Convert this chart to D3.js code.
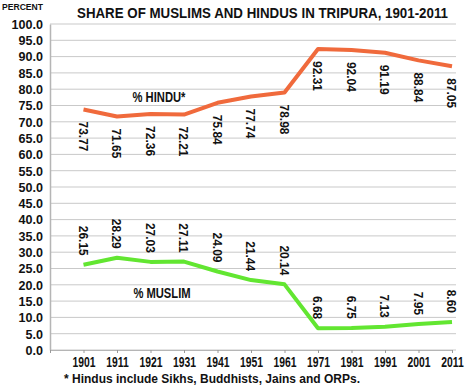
<!DOCTYPE html>
<html>
<head>
<meta charset="utf-8">
<script src="https://cdn.jsdelivr.net/npm/d3@7"></script>
<style>
  body { margin: 0; background: #fff; }
  svg text { font-family: "Liberation Sans", Arial, sans-serif; font-weight: bold; fill: #111; }
</style>
</head>
<body>
<svg id="chart" width="476" height="388"></svg>
<script>
// census years and shares (%)
const years = [1901, 1911, 1921, 1931, 1941, 1951, 1961, 1971, 1981, 1991, 2001, 2011];
const hindu = [73.77, 71.65, 72.36, 72.21, 75.84, 77.74, 78.98, 92.31, 92.04, 91.19, 88.84, 87.05];
const muslim = [26.15, 28.29, 27.03, 27.11, 24.09, 21.44, 20.14, 6.68, 6.75, 7.13, 7.95, 8.60];
const yTicks = d3.range(0, 100.1, 5);

const svg = d3.select("#chart");

// squeeze text horizontally to mimic the condensed face of the original
function condense(sel, factor) {
  sel.each(function () {
    const len = this.getComputedTextLength();
    d3.select(this).attr("textLength", len * factor).attr("lengthAdjust", "spacingAndGlyphs");
  });
}

const x = d3.scaleLinear().domain([1891, 2011]).range([50, 452]);
const y = d3.scaleLinear().domain([0, 100]).range([350, 24]);

// grid lines
svg.append("g")
  .selectAll("line")
  .data(yTicks)
  .join("line")
  .attr("x1", 50).attr("x2", 456)
  .attr("y1", d => y(d)).attr("y2", d => y(d))
  .attr("stroke", "#c9c9c9")
  .attr("stroke-width", 1);

// left axis
const yAxis = svg.append("g")
  .attr("transform", "translate(50,0)")
  .call(d3.axisLeft(y).tickValues(yTicks).tickFormat(d3.format(".1f")).tickSize(0).tickPadding(7));
yAxis.select(".domain").attr("stroke", "#b5b5b5").attr("stroke-width", 1.5);
yAxis.selectAll("text").style("font-size", "13.5px").attr("fill", "#111").call(condense, 0.93);

// bottom axis
const xAxis = svg.append("g")
  .attr("transform", "translate(0,350)")
  .call(d3.axisBottom(x).tickValues([1891].concat(years)).tickFormat(d => d === 1891 ? "" : d).tickSize(3).tickSizeOuter(0).tickPadding(4));
xAxis.select(".domain").attr("stroke", "#b5b5b5").attr("stroke-width", 1);
xAxis.selectAll("line").attr("stroke", "#999");
xAxis.selectAll("text").style("font-size", "14px").attr("fill", "#111").call(condense, 0.74);

// series lines
const line = d3.line().x((d, i) => x(years[i])).y(d => y(d));
svg.append("path").datum(hindu)
  .attr("d", line).attr("fill", "none")
  .attr("stroke", "#f06a3c").attr("stroke-width", 4).attr("stroke-linejoin", "round");
svg.append("path").datum(muslim)
  .attr("d", line).attr("fill", "none")
  .attr("stroke", "#62e631").attr("stroke-width", 4).attr("stroke-linejoin", "round");

// value labels, rotated
svg.append("g").selectAll("text")
  .data(hindu)
  .join("text")
  .attr("transform", (d, i) => "translate(" + x(years[i]) + "," + (y(d) + 12) + ") rotate(90)")
  .attr("dy", "0.35em")
  .style("font-size", "13px")
  .text(d => d.toFixed(2))
  .call(condense, 0.92);

svg.append("g").selectAll("text")
  .data(muslim)
  .join("text")
  .attr("transform", (d, i) => "translate(" + x(years[i]) + "," + (y(d) - 9) + ") rotate(90)")
  .attr("dy", "0.35em")
  .attr("text-anchor", "end")
  .style("font-size", "13px")
  .text(d => d.toFixed(2))
  .call(condense, 0.92);

// series names
svg.append("text").attr("x", 159).attr("y", 102).attr("text-anchor", "middle")
  .style("font-size", "14px").text("% HINDU*").call(condense, 0.8);
svg.append("text").attr("x", 162).attr("y", 298).attr("text-anchor", "middle")
  .style("font-size", "14px").text("% MUSLIM").call(condense, 0.8);

// titles and note
svg.append("text").attr("x", 2).attr("y", 9.5).style("font-size", "8.5px")
  .text("PERCENT").attr("textLength", 41).attr("lengthAdjust", "spacingAndGlyphs");
svg.append("text").attr("transform", "translate(77,17.5) scale(1,1.2)")
  .style("font-size", "12px").text("SHARE OF MUSLIMS AND HINDUS IN TRIPURA, 1901-2011")
  .attr("textLength", 371).attr("lengthAdjust", "spacingAndGlyphs");
svg.append("text").attr("x", 64).attr("y", 383)
  .style("font-size", "13.5px").text("* Hindus include Sikhs, Buddhists, Jains and ORPs.")
  .attr("textLength", 296).attr("lengthAdjust", "spacingAndGlyphs");
</script>
</body>
</html>
